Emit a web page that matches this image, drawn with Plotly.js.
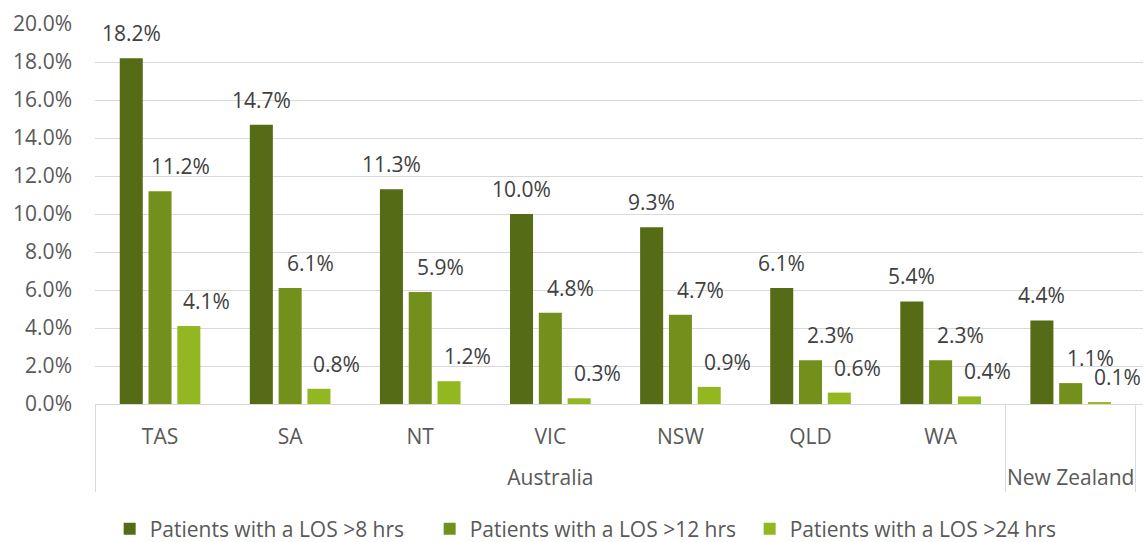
<!DOCTYPE html>
<html><head><meta charset="utf-8">
<script src="https://cdn.plot.ly/plotly-3.0.1.min.js"></script>
<style>html,body{margin:0;padding:0;background:#fff}#chart{width:1145px;height:542px}</style>
</head><body><div id="chart"></div>
<script>
const countries = ["Australia","Australia","Australia","Australia","Australia","Australia","Australia","New Zealand"];
const regions = ["TAS","SA","NT","VIC","NSW","QLD","WA"," "];
const seriesNames = ["Patients with a LOS >8 hrs","Patients with a LOS >12 hrs","Patients with a LOS >24 hrs"];
const los8 = [18.2,14.7,11.3,10.0,9.3,6.1,5.4,4.4];
const los12 = [11.2,6.1,5.9,4.8,4.7,2.3,2.3,1.1];
const los24 = [4.1,0.8,1.2,0.3,0.9,0.6,0.4,0.1];
const colors = ["#556B15","#74901C","#93B720"];
const series = [los8,los12,los24];

const FONT = "Open Sans, sans-serif";
const TXT = "#595959";
const FS = 21;
const bargap = 0.336, groupgap = 0.2;
const slot = (1-bargap)/3;
const labelShift = [0,20,18];

// a blank second line under each region label pushes the country row lower
const regionLabels = regions.map(r => r + "<br><span style='font-size:12px'>&nbsp;</span>");

const traces = series.map((vals,k)=>({
  type:"bar", name:seriesNames[k], x:[countries,regionLabels], y:vals,
  marker:{color:colors[k]}, hoverinfo:"skip"
}));

const annotations = [];
series.forEach((vals,k)=>{
  vals.forEach((v,i)=>{
    annotations.push({x:i+(k-1)*slot, y:v, xref:"x", yref:"y", text:v.toFixed(1)+"%",
      showarrow:false, yanchor:"middle", xanchor:"center", yshift:25, xshift:labelShift[k],
      font:{family:FONT,size:FS,color:"#404040"}});
  });
});

const layout = {
  width:1145, height:542,
  margin:{l:95,r:2,t:24,b:138,autoexpand:false},
  paper_bgcolor:"#fff", plot_bgcolor:"#fff",
  barmode:"group", bargap:bargap, bargroupgap:groupgap,
  font:{family:FONT,size:FS,color:TXT},
  xaxis:{type:"multicategory", showgrid:false, showline:true, linecolor:"#d9d9d9", linewidth:1,
    showdividers:true, dividercolor:"#d9d9d9", dividerwidth:1, ticklabelstandoff:14,
    tickfont:{family:FONT,size:FS,color:TXT}, ticks:""},
  yaxis:{range:[0,20], dtick:2, tick0:0, tickformat:".1f", ticksuffix:"%",
    showgrid:true, gridcolor:"#d9d9d9", gridwidth:1, zeroline:true, zerolinecolor:"#d9d9d9",
    showline:false, ticks:"", ticklabelstandoff:22,
    tickfont:{family:FONT,size:FS,color:TXT}},
  legend:{orientation:"h", x:0.472, xanchor:"center", y:-0.275, yanchor:"top",
    font:{family:FONT,size:FS,color:TXT}, itemwidth:30, traceorder:"normal",
    entrywidth:275, entrywidthmode:"pixels"},
  annotations:annotations,
  showlegend:true
};
Plotly.newPlot("chart", traces, layout, {displayModeBar:false, staticPlot:true});
</script></body></html>
